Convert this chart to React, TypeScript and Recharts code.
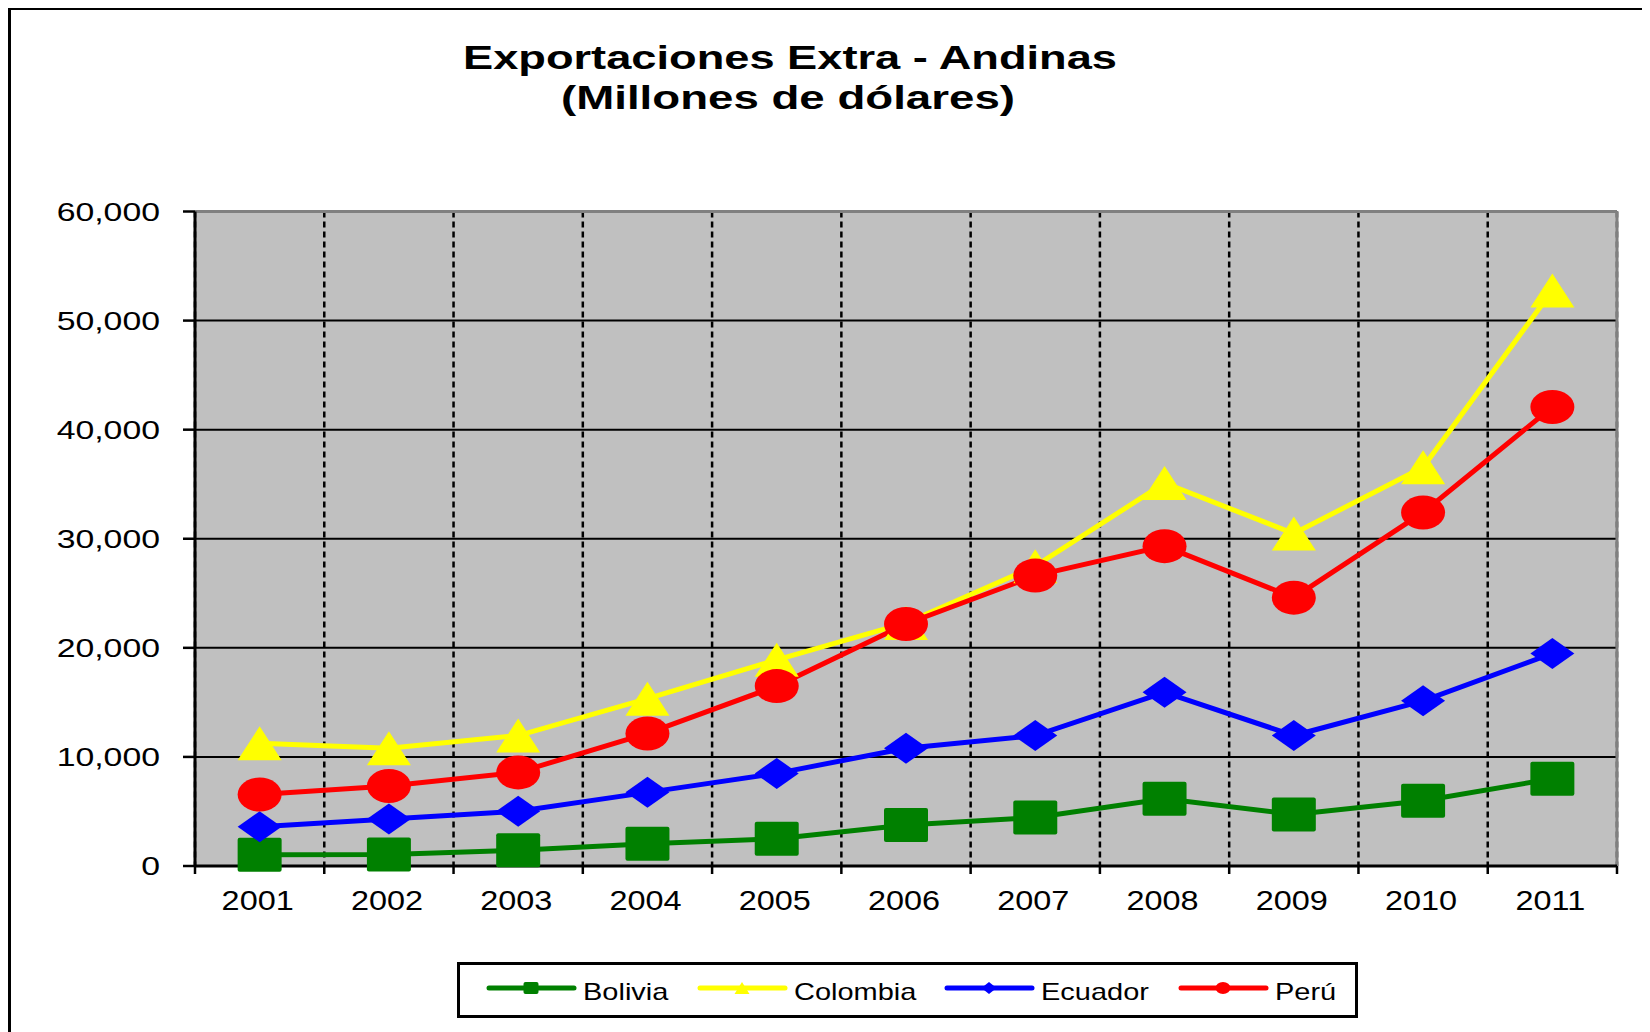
import {
  LineChart,
  Line,
  XAxis,
  YAxis,
  CartesianGrid,
  Legend,
  ReferenceLine,
} from "recharts";

const years = ["2001", "2002", "2003", "2004", "2005", "2006", "2007", "2008", "2009", "2010", "2011"];
const bolivia = [1040, 1060, 1450, 2030, 2500, 3760, 4440, 6170, 4730, 5980, 8000];
const colombia = [11250, 10800, 11960, 15340, 18900, 22280, 27490, 35110, 30480, 36560, 52750];
const ecuador = [3600, 4300, 5020, 6750, 8490, 10800, 11960, 15920, 11960, 15140, 19490];
const peru = [6560, 7330, 8580, 12150, 16490, 22190, 26620, 29320, 24600, 32410, 42080];
const yTicks = [0, 10000, 20000, 30000, 40000, 50000, 60000];

const data = years.map((year, i) => ({
  idx: i + 1,
  year,
  bolivia: bolivia[i],
  colombia: colombia[i],
  ecuador: ecuador[i],
  peru: peru[i],
}));

// category boundaries, Excel style ticks between the years
const xBounds = years.map((_, i) => i + 0.5).concat(years.length + 0.5);

const FONT = "'Liberation Sans', Arial, sans-serif";
const W = 1642;
const H = 1024;
const PLOT_W = 1422;
const BAND = PLOT_W / years.length;

const series = [
  { key: "bolivia", name: "Bolivia", color: "#008000", shape: "square" },
  { key: "colombia", name: "Colombia", color: "#FFFF00", shape: "triangle" },
  { key: "ecuador", name: "Ecuador", color: "#0000FF", shape: "diamond" },
  { key: "peru", name: "Perú", color: "#FF0000", shape: "circle" },
];

function Marker({ shape, cx, cy, color, w, h }: any) {
  const hw = w / 2;
  const hh = h / 2;
  if (shape === "square")
    return <rect x={cx - hw} y={cy - hh} width={w} height={h} rx={2} fill={color} />;
  if (shape === "triangle")
    return <polygon points={`${cx},${cy - hh} ${cx + hw},${cy + hh} ${cx - hw},${cy + hh}`} fill={color} />;
  if (shape === "diamond")
    return <polygon points={`${cx},${cy - hh} ${cx + hw},${cy} ${cx},${cy + hh} ${cx - hw},${cy}`} fill={color} />;
  return <ellipse cx={cx} cy={cy} rx={hw} ry={hh} fill={color} />;
}

function makeDot(shape: string, color: string) {
  return (props: any) => {
    const { cx, cy, index } = props;
    if (cx == null || cy == null) return <g key={index} />;
    return (
      <g key={index}>
        <Marker shape={shape} cx={cx} cy={cy} color={color} w={44} h={shape === "diamond" ? 31 : 34} />
      </g>
    );
  };
}

function YTick({ x, y, payload }: any) {
  return (
    <text
      transform={`translate(${x - 23},${y + 9.3}) scale(1.3,1)`}
      textAnchor="end"
      fontFamily={FONT}
      fontSize={26}
      fill="#000"
    >
      {payload.value.toLocaleString("en-US")}
    </text>
  );
}

function XTick({ x, y, payload }: any) {
  const label = years[Math.round(payload.value - 0.5)];
  if (!label) return <g />;
  return (
    <text
      transform={`translate(${x + BAND / 2 - 2},${y + 36}) scale(1.2,1)`}
      textAnchor="middle"
      fontFamily={FONT}
      fontSize={27}
      fill="#000"
    >
      {label}
    </text>
  );
}

// fixed item offsets inside the legend box
const legendX = [32, 243, 490, 724];

function LegendBox() {
  return (
    <svg width={901} height={56} style={{ display: "block" }}>
      <rect x={1.5} y={1.5} width={898} height={53} fill="#fff" stroke="#000" strokeWidth={3} />
      {series.map((s, i) => (
        <g key={s.key}>
          <line x1={legendX[i]} x2={legendX[i] + 85} y1={26} y2={26} stroke={s.color} strokeWidth={5} strokeLinecap="round" />
          <Marker shape={s.shape} cx={legendX[i] + 42} cy={26} color={s.color} w={15} h={12} />
          <text
            transform={`translate(${legendX[i] + 94},38) scale(1.26,1)`}
            fontFamily={FONT}
            fontSize={23}
            fill="#000"
          >
            {s.name}
          </text>
        </g>
      ))}
    </svg>
  );
}

export default function App() {
  return (
    <div style={{ position: "relative", width: W, height: H }}>
      <div
        style={{
          position: "absolute",
          left: 0,
          top: -1,
          width: W,
          height: H + 1,
          borderLeft: "3px solid #000",
          borderTop: "3px solid #000",
          boxSizing: "border-box",
          pointerEvents: "none",
        }}
      />
      <svg width={W} height={130} style={{ position: "absolute", left: 0, top: 0 }}>
        <text x={782} y={61} textAnchor="middle" fontFamily={FONT} fontWeight="bold" fontSize={33}
          textLength={654} lengthAdjust="spacingAndGlyphs">
          Exportaciones Extra - Andinas
        </text>
        <text x={780} y={101} textAnchor="middle" fontFamily={FONT} fontWeight="bold" fontSize={33}
          textLength={454} lengthAdjust="spacingAndGlyphs">
          (Millones de dólares)
        </text>
      </svg>
      <LineChart
        width={W}
        height={H}
        data={data}
        margin={{ top: 203.5, right: 33, bottom: 14, left: 0 }}
      >
        <CartesianGrid vertical={false} stroke="#000" strokeWidth={2} fill="#C0C0C0" fillOpacity={1} />
        <CartesianGrid horizontal={false} stroke="#000" strokeWidth={2.5} strokeDasharray="6 4" />
        <XAxis
          type="number"
          dataKey="idx"
          domain={[0.5, years.length + 0.5]}
          ticks={xBounds}
          interval={0}
          height={96}
          tickSize={8}
          tickMargin={0}
          tick={<XTick />}
          axisLine={{ stroke: "#000", strokeWidth: 3 }}
          tickLine={{ stroke: "#000", strokeWidth: 2.5 }}
        />
        <YAxis
          domain={[0, 60000]}
          ticks={yTicks}
          interval={0}
          width={187}
          tickSize={12}
          tickMargin={0}
          tick={<YTick />}
          axisLine={{ stroke: "#000", strokeWidth: 3 }}
          tickLine={{ stroke: "#000", strokeWidth: 2.5 }}
        />
        <ReferenceLine y={60000} stroke="#808080" strokeWidth={3} />
        <ReferenceLine x={years.length + 0.5} stroke="#808080" strokeWidth={3} />
        {series.map((s) => (
          <Line
            key={s.key}
            type="linear"
            dataKey={s.key}
            name={s.name}
            stroke={s.color}
            strokeWidth={5}
            dot={makeDot(s.shape, s.color)}
            activeDot={false}
            isAnimationActive={false}
          />
        ))}
        <Legend
          verticalAlign="bottom"
          content={<LegendBox />}
          wrapperStyle={{ left: 449, bottom: 14, width: 901, height: 56 }}
        />
      </LineChart>
    </div>
  );
}
